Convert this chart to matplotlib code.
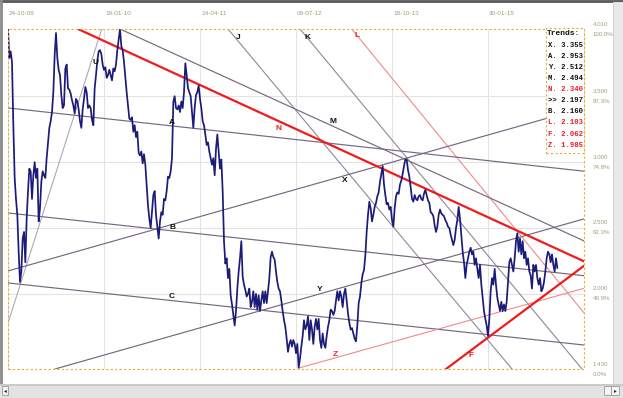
import matplotlib
matplotlib.use('Agg')
import matplotlib.pyplot as plt
from matplotlib.patches import Rectangle
import numpy as np

# top axis dates (bar index of each gridline)
date_labels = ['24-10-08', '19-01-10', '14-04-11', '09-07-12', '18-10-13', '30-01-15']
date_bars = [0, 72, 144, 216, 288, 360]

# right scale: price levels and their share of the top level
levels = [4.010, 3.500, 3.000, 2.500, 2.000, 1.430]
level_pct = ['100.0%', '87.3%', '74.8%', '62.3%', '49.9%', '0.0%']

# closing prices, one value per bar
close = [
    4.01, 3.79, 3.84, 3.76, 3.28, 2.88, 2.72, 2.60, 2.32, 2.09,
    2.17, 2.42, 2.47, 2.24, 2.57, 2.78, 2.95, 2.93, 2.72, 2.90,
    3.00, 2.88, 2.95, 2.55, 2.65, 2.85, 2.93, 2.90, 2.88, 3.03,
    3.15, 3.26, 3.31, 3.38, 3.53, 3.81, 3.98, 3.79, 3.70, 3.66,
    3.51, 3.41, 3.43, 3.71, 3.74, 3.56, 3.55, 3.52, 3.47, 3.43,
    3.37, 3.48, 3.46, 3.40, 3.31, 3.26, 3.40, 3.48, 3.57, 3.53,
    3.41, 3.43, 3.41, 3.32, 3.28, 3.56, 3.66, 3.77, 3.84, 3.85,
    3.82, 3.74, 3.70, 3.72, 3.64, 3.66, 3.70, 3.66, 3.62, 3.71,
    3.69, 3.74, 3.85, 3.93, 4.01, 3.88, 3.85, 3.76, 3.64, 3.53,
    3.43, 3.33, 3.32, 3.34, 3.23, 3.28, 3.19, 3.23, 3.07, 3.05,
    3.08, 2.99, 3.06, 2.98, 2.83, 2.67, 2.57, 2.50, 2.62, 2.75,
    2.78, 2.60, 2.51, 2.42, 2.55, 2.62, 2.60, 2.72, 2.71, 2.78,
    2.89, 2.88, 2.93, 3.03, 3.46, 3.50, 3.41, 3.40, 3.43, 3.38,
    3.46, 3.41, 3.53, 3.75, 3.66, 3.56, 3.53, 3.50, 3.38, 3.26,
    3.41, 3.51, 3.53, 3.58, 3.48, 3.41, 3.31, 3.28, 3.21, 3.13,
    3.15, 3.08, 3.03, 2.98, 3.03, 2.90, 3.10, 3.21, 3.08, 2.95,
    3.02, 2.78, 2.40, 2.23, 2.27, 2.12, 2.19, 1.99, 1.92, 1.84,
    1.76, 1.87, 2.04, 2.17, 2.27, 2.40, 2.13, 2.07, 2.03, 1.98,
    2.00, 2.04, 1.90, 1.94, 2.02, 1.90, 2.00, 1.88, 1.99, 1.87,
    1.95, 2.02, 1.93, 2.02, 1.93, 2.02, 2.12, 2.28, 2.32, 2.28,
    2.26, 2.17, 2.09, 2.04, 2.02, 1.95, 1.87, 1.80, 1.75, 1.66,
    1.56, 1.62, 1.65, 1.60, 1.65, 1.62, 1.55, 1.62, 1.44, 1.51,
    1.60, 1.68, 1.80, 1.73, 1.76, 1.83, 1.65, 1.80, 1.73, 1.62,
    1.75, 1.81, 1.73, 1.81, 1.65, 1.59, 1.70, 1.62, 1.59, 1.68,
    1.75, 1.80, 1.88, 1.87, 1.84, 1.87, 1.95, 2.02, 1.95, 2.02,
    1.98, 1.90, 2.00, 2.04, 1.95, 1.85, 1.78, 1.73, 1.74, 1.70,
    1.66, 1.64, 1.76, 1.93, 1.98, 2.08, 2.15, 2.18, 2.29, 2.47,
    2.60, 2.70, 2.65, 2.55, 2.60, 2.66, 2.69, 2.74, 2.77, 2.85,
    2.91, 2.97, 2.83, 2.75, 2.68, 2.69, 2.64, 2.66, 2.56, 2.51,
    2.65, 2.74, 2.77, 2.76, 2.83, 2.86, 2.91, 2.97, 3.02, 3.02,
    2.94, 2.89, 2.81, 2.72, 2.70, 2.75, 2.72, 2.71, 2.74, 2.75,
    2.72, 2.71, 2.76, 2.79, 2.75, 2.71, 2.69, 2.62, 2.61, 2.59,
    2.52, 2.47, 2.51, 2.60, 2.64, 2.61, 2.60, 2.59, 2.56, 2.54,
    2.51, 2.50, 2.45, 2.41, 2.37, 2.41, 2.50, 2.56, 2.66, 2.57,
    2.45, 2.32, 2.24, 2.12, 2.22, 2.27, 2.32, 2.35, 2.30, 2.32,
    2.22, 2.27, 2.19, 2.12, 2.22, 2.07, 1.97, 1.87, 1.81, 1.76,
    1.68, 1.81, 2.02, 2.12, 2.07, 2.19, 2.07, 1.97, 1.92, 1.87,
    1.94, 1.87, 1.92, 1.87, 1.94, 2.09, 2.24, 2.27, 2.22, 2.17,
    2.27, 2.40, 2.46, 2.32, 2.42, 2.30, 2.40, 2.27, 2.32, 2.22,
    2.27, 2.17, 2.14, 2.04, 2.22, 2.17, 2.22, 2.12, 2.07, 2.12,
    2.02, 2.04, 2.09, 2.17, 2.27, 2.32, 2.30, 2.24, 2.30, 2.22,
    2.17, 2.27, 2.197,
]

# trend lines: name, start (bar, price), end (bar, price)
trend_names = ['U', 'J', 'K', 'L', 'N', 'M', 'A', 'X', 'B', 'C', 'Y', 'Z', 'F']
trend_x0 = [0, 165, 219, 257.8, 52.5, 84, 0, 0, 0, 0, 35.25, 218, 328.5]
trend_y0 = [1.779, 4.010, 4.010, 4.010, 4.010, 4.010, 3.411, 2.174, 2.614, 2.083, 1.430, 1.437, 1.430]
trend_x1 = [70.3, 378, 430.5, 432, 432, 432, 432, 432, 432, 432, 432, 432, 432]
trend_y1 = [4.010, 1.430, 1.430, 1.856, 2.247, 2.402, 2.931, 3.412, 2.138, 1.612, 2.569, 2.042, 2.213]

# "Trends:" box, value of each line on the last bar
legend_names = ['X', 'A', 'Y', 'M', 'N', '>>', 'B', 'L', 'F', 'Z']
legend_values = [3.355, 2.953, 2.512, 2.494, 2.340, 2.197, 2.160, 2.103, 2.062, 1.985]

W, H = 623, 398
style = {
    'U': ('#b3a6b3', 0.8), 'J': ('#8e8898', 0.8), 'K': ('#8e8898', 0.8),
    'L': ('#f28a8a', 0.8), 'Z': ('#f28a8a', 0.8),
    'N': ('#ee1c1c', 1.6), 'F': ('#ee1c1c', 1.6),
}
red_names = ['N', 'L', 'F', 'Z']
label_pos = {
    'U': (65.3, 3.757), 'J': (172.5, 3.949), 'K': (224.3, 3.949), 'L': (261.8, 3.964),
    'N': (203, 3.255), 'M': (243.8, 3.310), 'A': (123, 3.302), 'X': (252.8, 2.864),
    'B': (123, 2.505), 'C': (123, 1.977), 'Y': (234, 2.030), 'Z': (245.3, 1.537),
    'F': (347, 1.530),
}
gold = '#e9ad33'
scale_col = '#a29d82'


def fig_rect(x, y, w, h, color, edge=None):
    fig.add_artist(Rectangle((x / W, (H - y - h) / H), w / W, h / H, transform=fig.transFigure,
                             facecolor=color, edgecolor=edge or color, linewidth=0.6))


fig = plt.figure(figsize=(W / 100, H / 100), dpi=100)
fig.patch.set_facecolor('white')
ax = fig.add_axes([8 / W, 29 / H, 576 / W, 340 / H])
ax.set_xlim(0, 432)
ax.set_ylim(1.43, 4.01)
for s in ax.spines.values():
    s.set_visible(False)
ax.set_xticks(date_bars)
ax.set_yticks(levels[1:-1])
ax.tick_params(length=0, labelbottom=False, labelleft=False)
ax.grid(color='#e3e3e3', linewidth=0.8)
ax.set_axisbelow(True)

# dashed frame of the price area
ax.add_patch(Rectangle((0, 0), 1, 1, transform=ax.transAxes, fill=False, edgecolor=gold,
                       linestyle=(0, (2, 2)), linewidth=0.8, clip_on=False, zorder=6))

for i, name in enumerate(trend_names):
    col, lw = style.get(name, ('#76687f', 0.85))
    ax.plot([trend_x0[i], trend_x1[i]], [trend_y0[i], trend_y1[i]], color=col, linewidth=lw,
            zorder=4 if lw > 1 else 3)
    lx, ly = label_pos[name]
    ax.text(lx, ly, name, ha='center', va='center', fontsize=6, fontweight='bold',
            family='Liberation Sans', color='#ee2222' if name in red_names else '#111111', zorder=7)

ax.plot(np.arange(len(close)), close, color='#1b1b7a', linewidth=1.25, zorder=5)

for b, d in zip(date_bars, date_labels):
    ax.annotate(d, xy=(b, 1), xycoords=('data', 'axes fraction'), xytext=(0.8, 11.5),
                textcoords='offset points', ha='left', va='center', fontsize=4.6,
                family='Liberation Sans', color=scale_col, annotation_clip=False)

for lv, pct in zip(levels, level_pct):
    for txt, dy in ((f'{lv:.3f}', 3.6), (pct, -3.6)):
        ax.annotate(txt, xy=(1, lv), xycoords=('axes fraction', 'data'), xytext=(6.2, dy),
                    textcoords='offset points', ha='left', va='center', fontsize=4.4,
                    family='Liberation Sans', color=scale_col, annotation_clip=False)

# trends box (pixel layout converted to axes fractions)
def ax_pt(px, py):
    return (px - 8) / 576, (369 - py) / 340


bx0, by0 = ax_pt(546, 153)
bx1, by1 = ax_pt(584, 28)
ax.add_patch(Rectangle((bx0, by0), bx1 - bx0, by1 - by0, transform=ax.transAxes, facecolor='white',
                       edgecolor=gold, linestyle=(0, (2, 2)), linewidth=0.8, clip_on=False, zorder=8))
tx, ty = ax_pt(547, 34)
ax.text(tx, ty, 'Trends:', transform=ax.transAxes, ha='left', va='center', fontsize=5.7,
        fontweight='bold', family='Liberation Mono', color='#111111', zorder=9)
for k, (n, v) in enumerate(zip(legend_names, legend_values)):
    tx, ty = ax_pt(548.5, 45.3 + 11.1 * k)
    lab = f'{n} {v:.3f}' if n == '>>' else f'{n}. {v:.3f}'
    ax.text(tx, ty, lab, transform=ax.transAxes, ha='left', va='center', fontsize=5.2,
            fontweight='bold', family='Liberation Mono',
            color='#e81c2c' if n in red_names else '#111111', zorder=9)

# window chrome
fig_rect(0, 0, W, 2, '#5c5c5c')
fig_rect(0, 0, 1.5, 386, '#8c8c8c')
fig_rect(613, 2, 10, 383, '#e9e9e9')
fig_rect(612.5, 2, 0.8, 383, '#cdcdcd')
fig_rect(0, 384, W, 14, '#e3e3e3')
fig_rect(0, 384, W, 0.8, '#c9c9c9')
fig_rect(2, 386, 6, 9, '#f4f4f4', '#9a9a9a')
fig_rect(604, 386, 7, 9, '#f4f4f4', '#9a9a9a')
fig_rect(611, 386, 8, 9, '#f4f4f4', '#9a9a9a')
fig.text(615 / W, 1 - 390.5 / H, '\u25b8', fontsize=4, ha='center', va='center', color='#222222')
fig.text(5 / W, 1 - 390.5 / H, '\u25c2', fontsize=4, ha='center', va='center', color='#222222')

fig.savefig('out.png', dpi=100)
plt.close(fig)
